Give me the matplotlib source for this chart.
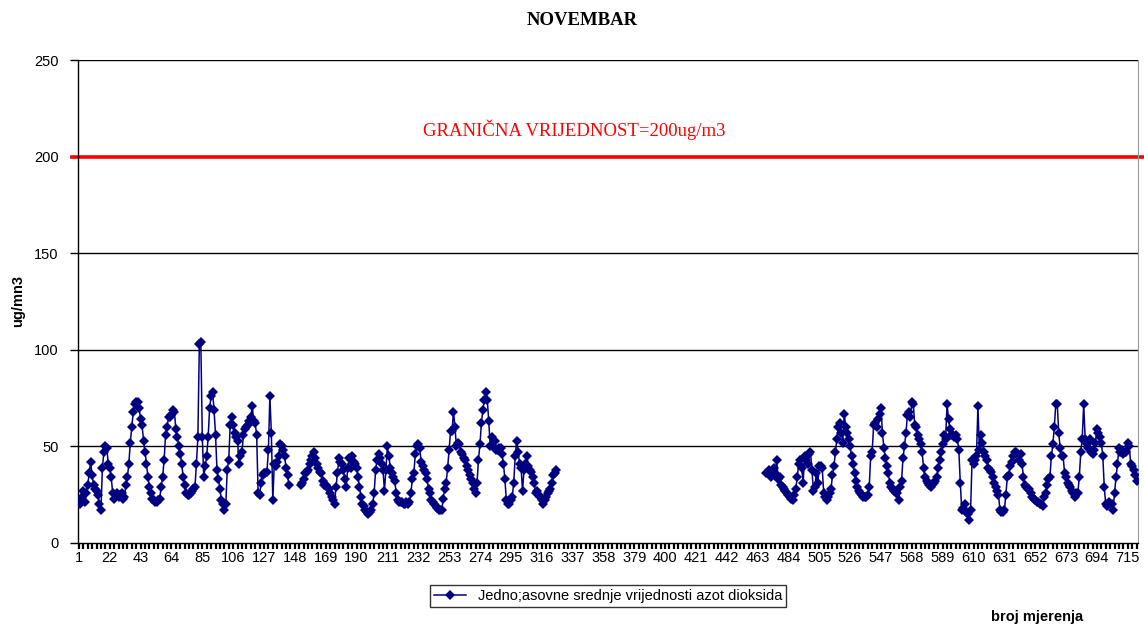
import numpy as np
import matplotlib
matplotlib.use("Agg")
import matplotlib.pyplot as plt
from matplotlib.ticker import FixedLocator

# hourly NO2 values, first block starts at measurement 1 (None = missing)
seg1 = [
    22, 20, 24, 27, 21, 26, 30, 36, 42, 35, 30, 28, 27, 25, 20, 17, 39, 47, 50, 49, 41, 39, 34, 26,
    23, 25, 26, 24, 25, 26, 23, 24, 30, 34, 41, 52, 60, 68, 72, 73, 73, 70, 64, 61, 53, 47, 41, 34,
    29, 26, 23, 22, 21, 21, 22, 23, 29, 34, 43, 56, 60, 65, 65, 66, 69, 68, 59, 55, 50, 46, 41, 34,
    30, 26, 25, 25, 26, 27, 28, 29, 41, 55, 103, 104, 55, 34, 40, 45, 55, 70, 76, 78, 69, 56, 38, 33,
    28, 22, 20, 17, 20, 38, 43, 61, 65, 61, 57, 55, 53, 41, 45, 47, 56, 59, 60, 61, 63, 65, 71, 63,
    62, 56, 26, 25, 31, 35, 36, 36, 37, 48, 76, 57, 22, 41, 40, 42, 45, 51, 50, 48, 45, 39, 35, 30,
    None, None, None, None, None, None, None, 30, 31, 33, 36, 37, 38, 41, 43, 45, 47, 44, 41, 39, 37, 36, 32, 30,
    30, 29, 28, 26, 24, 22, 20, 29, 36, 44, 42, 41, 38, 33, 29, 39, 44, 39, 45, 42, 41, 39, 34, 29,
    24, 20, 19, 17, 16, 15, 16, 17, 20, 26, 38, 43, 46, 44, 41, 38, 27, 38, 50, 45, 39, 36, 34, 32,
    26, 22, 21, 21, 21, 20, 20, 21, 20, 21, 26, 33, 36, 46, 50, 51, 49, 42, 40, 38, 36, 33, 28, 26,
    22, 21, 20, 19, 18, 17, 17, 17, 23, 28, 31, 39, 48, 58, 58, 68, 60, 50, 52, 51, 47, 46, 44, 43,
    40, 38, 35, 33, 31, 28, 26, 31, 43, 51, 62, 69, 74, 78, 74, 63, 50, 55, 50, 53, 48, 48, 49, 49,
    46, 41, 33, 22, 20, 20, 22, 24, 31, 45, 53, 47, 41, 39, 27, 38, 41, 45, 40, 38, 37, 34, 31, 26,
    27, 25, 24, 22, 20, 22, 24, 26, 27, 28, 31, 35, 36, 38,
]

# second block starts at measurement 469
seg2_start = 469
seg2 = [
    36, 37, 38, 34, 36, 39, 36, 43, 33, 34, 30, 29, 28, 27, 26, 25, 24, 23, 22, 25,
    28, 34, 41, 43, 39, 31, 45, 43, 41, 46, 47, 38, 27, 29, 36, 31, 40, 40, 39, 26,
    24, 22, 24, 26, 28, 35, 40, 47, 54, 60, 62, 57, 52, 67, 60, 57, 54, 50, 45, 41,
    36, 32, 29, 27, 26, 25, 24, 24, 24, 25, 29, 45, 47, 61, 62, 60, 64, 67, 70, 57,
    49, 44, 40, 36, 31, 29, 28, 27, 26, 26, 22, 29, 32, 44, 50, 57, 66, 68, 65, 73,
    72, 61, 60, 56, 54, 51, 47, 39, 34, 32, 31, 30, 29, 30, 31, 32, 34, 39, 43, 47,
    51, 56, 54, 72, 64, 59, 56, 56, 55, 56, 54, 48, 31, 17, 18, 20, 16, 15, 12, 17,
    43, 41, 43, 45, 71, 48, 56, 52, 47, 45, 43, 39, 38, 37, 34, 31, 29, 27, 25, 17,
    16, 16, 17, 25, 34, 35, 40, 42, 45, 47, 47, 46, 43, 46, 41, 34, 30, 29, 28, 28,
    26, 24, 23, 22, 21, 21, 20, 20, 19, 24, 26, 30, 33, 34, 45, 51, 60, 72, 72, 57,
    49, 45, 45, 36, 34, 31, 30, 29, 27, 26, 24, 26, 26, 34, 47, 54, 72, 54, 51, 49,
    54, 47, 46, 48, 52, 59, 57, 55, 52, 45, 29, 20, 19, 21, 20, 20, 17, 26, 34, 41,
    49, 47, 48, 46, 47, 47, 52, 50, 41, 40, 38, 35, 32,
]

limit_value = 200
y_ticks = [0, 50, 100, 150, 200, 250]
x_labels = list(range(1, 716, 21))

navy = "#000080"

x1 = np.arange(1, len(seg1) + 1)
y1 = np.array([np.nan if v is None else v for v in seg1], dtype=float)
x2 = np.arange(seg2_start, seg2_start + len(seg2))
y2 = np.array(seg2, dtype=float)

# one series with a gap between the two blocks
x_gap = np.arange(len(seg1) + 1, seg2_start)
x = np.concatenate([x1, x_gap, x2])
y = np.concatenate([y1, np.full(len(x_gap), np.nan), y2])

fig = plt.figure(figsize=(11.44, 6.27), dpi=100)
ax = fig.add_axes([0.0682, 0.134, 0.9266, 0.7703])

for v in y_ticks:
    if v not in (0, limit_value):
        ax.axhline(v, color="black", lw=1.0, zorder=1)

ax.axhline(limit_value, xmin=-0.0057, xmax=1.0057, color="red", lw=2.6,
           clip_on=False, zorder=2)

ax.plot(x, y, color=navy, lw=1.1, marker="D", markersize=5.2,
        markeredgewidth=0, label="Jedno;asovne srednje vrijednosti azot dioksida",
        zorder=3)

ax.text(338, 214, "GRANIČNA VRIJEDNOST=200ug/m3", color="red",
        family="Liberation Serif", fontsize=13.5, ha="center", va="center")

ax.set_xlim(0.4, 722)
ax.set_ylim(0, 250)
ax.set_yticks(y_ticks)
ax.xaxis.set_major_locator(FixedLocator(x_labels))
ax.xaxis.set_minor_locator(FixedLocator(list(range(1, 722, 3))))
ax.set_xticklabels([str(v) for v in x_labels])

for lab in ax.get_xticklabels() + ax.get_yticklabels():
    lab.set_family("Liberation Sans")
    lab.set_fontsize(10.5)

ax.tick_params(axis="y", direction="out", length=6, width=1, pad=8)
ax.tick_params(axis="x", which="both", direction="out", length=4, width=1.6, pad=2)

ax.spines["top"].set_visible(False)
ax.spines["right"].set_color("#999999")
ax.spines["left"].set_linewidth(1.0)
ax.spines["bottom"].set_linewidth(1.0)

fig.text(0.509, 0.968, "NOVEMBAR", family="Liberation Serif", fontweight="bold",
         fontsize=13.5, ha="center", va="center")
fig.text(0.016, 0.52, "ug/mn3", family="Liberation Sans", fontweight="bold",
         fontsize=10.5, rotation=90, ha="center", va="center")
fig.text(0.9065, 0.016, "broj mjerenja", family="Liberation Sans", fontweight="bold",
         fontsize=10.5, ha="center", va="center")

leg = fig.legend(loc="center", bbox_to_anchor=(0.5315, 0.0494), frameon=True,
                 fancybox=False, shadow=False, handlelength=2.2, borderpad=0.3,
                 prop={"family": "Liberation Sans", "size": 10.5})
leg.get_frame().set_edgecolor("black")
leg.get_frame().set_linewidth(1.0)

plt.savefig("out.png", dpi=100)
